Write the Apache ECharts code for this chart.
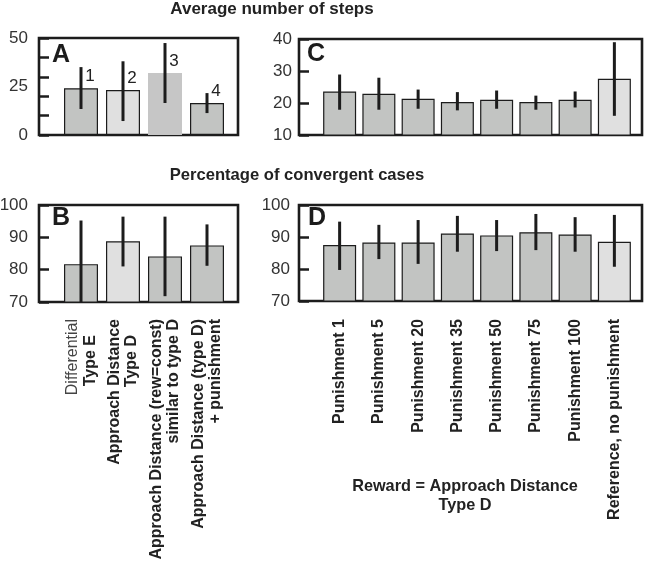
<!DOCTYPE html>
<html><head><meta charset="utf-8">
<script src="https://cdn.jsdelivr.net/npm/echarts@6/dist/echarts.min.js"></script>
<style>html,body{margin:0;padding:0;background:#fff}#c{width:645px;height:569px}</style>
</head><body><div id="c"></div>
<script>
// ---- data ----
const categoriesAB = ['Differential\nType E', 'Approach Distance\nType D', 'Approach Distance (rew=const)\nsimilar to type D', 'Approach Distance (type D)\n+ punishment'];
const barNumbersA = ['1', '2', '3', '4'];
const stepsAB = [24.1, 23.2, 32.0, 16.5];
const stepsABLow = [13.4, 7.2, 16.5, 11.3];
const stepsABHigh = [35.0, 38.0, 47.4, 21.6];
const convAB = [81.7, 88.8, 84.1, 87.5];
const convABLow = [70.0, 81.0, 71.8, 81.2];
const convABHigh = [95.2, 96.4, 96.4, 94.0];

const categoriesCD = ['Punishment 1', 'Punishment 5', 'Punishment 20', 'Punishment 35', 'Punishment 50', 'Punishment 75', 'Punishment 100', 'Reference, no punishment'];
const stepsCD = [23.6, 22.9, 21.3, 20.3, 21.0, 20.3, 21.0, 27.6];
const stepsCDLow = [17.9, 17.9, 18.2, 17.7, 18.2, 17.9, 18.6, 16.0];
const stepsCDHigh = [28.9, 27.9, 24.2, 23.4, 23.9, 22.3, 23.6, 39.0];
const convCD = [87.5, 88.3, 88.3, 91.1, 90.5, 91.5, 90.8, 88.5];
const convCDLow = [79.7, 83.1, 81.6, 85.4, 85.6, 85.9, 85.4, 80.7];
const convCDHigh = [94.8, 93.8, 95.3, 96.6, 95.3, 97.2, 96.2, 96.9];

const yTicksA = [0, 25, 50];
const titleSteps = 'Average number of steps';
const titleConv = 'Percentage of convergent cases';
const footer = 'Reward = Approach Distance\nType D';

// ---- styles ----
const FONT = '"Liberation Sans", Arial, Helvetica, sans-serif';
const INK = '#1c1c1c';
const GRAY = '#c2c4c2';
const LIGHT = '#e0e0e0';
const colorsAB_A = [GRAY, LIGHT, '#c6c6c6', GRAY];
const borderAB_A = [1.2, 1.2, 0, 1.2];
const colorsAB_B = [GRAY, LIGHT, GRAY, GRAY];
const colorsCD = [GRAY, GRAY, GRAY, GRAY, GRAY, GRAY, GRAY, LIGHT];

const grid = [], xAxis = [], yAxis = [], series = [];

function panel(frame, band, yMin, yMax, cats, values, low, high, colors, borders, opts) {
  const fi = grid.length;
  grid.push(Object.assign({show: true, borderColor: INK, borderWidth: 2.6, backgroundColor: 'transparent', outerBoundsMode: 'none', containLabel: false}, frame));
  const bi = grid.length;
  grid.push(Object.assign({show: false, outerBoundsMode: 'none', containLabel: false}, band));
  xAxis.push({gridIndex: fi, type: 'value', min: 0, max: 1, show: false});
  yAxis.push({gridIndex: fi, type: 'value', min: yMin, max: yMax, interval: 10,
    axisLine: {show: false}, splitLine: {show: false},
    axisTick: {show: true, inside: true, length: 10, lineStyle: {color: INK, width: 2.5}},
    axisLabel: {show: !opts.altLabels, margin: opts.labelMargin || 10, fontFamily: FONT, fontSize: 17, color: '#333'}});
  const bx = xAxis.length;
  xAxis.push({gridIndex: bi, type: 'category', data: cats, boundaryGap: true,
    axisLine: {show: false},
    axisTick: {show: true, alignWithLabel: true, inside: true, length: 4, lineStyle: {color: '#555', width: 1}},
    axisLabel: opts.catLabel || {show: false}});
  const by = yAxis.length;
  yAxis.push({gridIndex: bi, type: 'value', min: yMin, max: yMax,
    interval: opts.altLabels ? 25 : 10,
    axisLine: {show: false}, splitLine: {show: false}, axisTick: {show: false},
    axisLabel: opts.altLabels ? {show: true, margin: 32, fontFamily: FONT, fontSize: 17, color: '#333',
      formatter: v => yTicksA.includes(v) ? String(v) : ''} : {show: false}});
  series.push({type: 'bar', xAxisIndex: bx, yAxisIndex: by, barWidth: opts.barWidth, z: 2,
    data: values.map((v, i) => ({value: v, itemStyle: {color: colors[i], borderColor: INK, borderWidth: borders[i]}})),
    label: opts.numbers ? {show: true, position: 'top', distance: 3, offset: [9, 0], fontFamily: FONT, fontSize: 17, color: '#222',
      formatter: p => opts.numbers[p.dataIndex]} : {show: false}
  });
  series.push({type: 'custom', xAxisIndex: bx, yAxisIndex: by, z: 4,
    data: values.map((v, i) => [i, low[i], high[i]]),
    renderItem: (params, api) => {
      const a = api.coord([api.value(0), api.value(1)]);
      const b = api.coord([api.value(0), api.value(2)]);
      return {type: 'line', shape: {x1: a[0], y1: a[1], x2: b[0], y2: b[1]}, style: {stroke: INK, lineWidth: 3}};
    }
  });
}

const catLabelAB = {
  show: true, rotate: 90, margin: 17, interval: 0, fontFamily: FONT, fontSize: 16, fontWeight: 'bold', color: '#222', lineHeight: 17,
  formatter: v => {
    const parts = v.split('\n');
    if (parts[0] === 'Differential') return '{r|' + parts[0] + '}\n{p|' + parts[1] + '}';
    if (parts[1].startsWith('Type')) return '{b|' + parts[0] + '}\n{p|' + parts[1] + '}';
    return '{b|' + parts[0] + '}\n{b|' + parts[1] + '}';
  },
  rich: {
    r: {fontFamily: FONT, fontSize: 16, fontWeight: 'normal', color: '#444', lineHeight: 20},
    b: {fontFamily: FONT, fontSize: 16, fontWeight: 'bold', color: '#222', lineHeight: 17},
    p: {fontFamily: FONT, fontSize: 16, fontWeight: 'bold', color: '#222', lineHeight: 17, padding: [0, 16, 0, 0]}
  }
};
const catLabelCD = {show: true, rotate: 90, margin: 18, interval: 0, fontFamily: FONT, fontSize: 16, fontWeight: 'bold', color: '#222'};

// A
panel({left: 39, top: 38, width: 199, height: 97}, {left: 60, top: 38, width: 168, height: 97}, 0, 50,
  categoriesAB, stepsAB, stepsABLow, stepsABHigh, colorsAB_A, borderAB_A, {altLabels: true, barWidth: 34, numbers: barNumbersA});
// B
panel({left: 39, top: 205, width: 199, height: 97}, {left: 60, top: 205, width: 168, height: 97}, 70, 100,
  categoriesAB, convAB, convABLow, convABHigh, colorsAB_B, [1.2, 1.2, 1.2, 1.2], {barWidth: 34, labelMargin: 11, catLabel: catLabelAB});
// C
panel({left: 299, top: 39, width: 343, height: 96}, {left: 320, top: 39, width: 314, height: 96}, 10, 40,
  categoriesCD, stepsCD, stepsCDLow, stepsCDHigh, colorsCD, [1.2,1.2,1.2,1.2,1.2,1.2,1.2,1.2], {barWidth: 33, labelMargin: 7});
// D
panel({left: 299, top: 205, width: 343, height: 96}, {left: 320, top: 205, width: 314, height: 96}, 70, 100,
  categoriesCD, convCD, convCDLow, convCDHigh, colorsCD, [1.2,1.2,1.2,1.2,1.2,1.2,1.2,1.2], {barWidth: 33, labelMargin: 9, catLabel: catLabelCD});

const letter = (t, left, top) => ({text: t, left: left, top: top, padding: 0,
  textStyle: {fontFamily: FONT, fontSize: 25, fontWeight: 'bold', color: INK}});

const option = {
  animation: false,
  backgroundColor: '#fff',
  title: [
    {text: titleSteps, left: 272, top: 1, textAlign: 'center', padding: 0, textStyle: {fontFamily: FONT, fontSize: 17, fontWeight: 'bold', color: '#222'}},
    {text: titleConv, left: 297, top: 167, textAlign: 'center', padding: 0, textStyle: {fontFamily: FONT, fontSize: 16.6, fontWeight: 'bold', color: '#222'}},
    {text: footer, left: 465, top: 477, textAlign: 'center', padding: 0, textStyle: {fontFamily: FONT, fontSize: 16.3, fontWeight: 'bold', color: '#222', lineHeight: 19}},
    letter('A', 52, 43), letter('B', 52, 206), letter('C', 307, 42), letter('D', 308, 206)
  ],
  grid, xAxis, yAxis, series
};
echarts.init(document.getElementById('c'), null, {renderer: 'canvas'}).setOption(option);
</script></body></html>
